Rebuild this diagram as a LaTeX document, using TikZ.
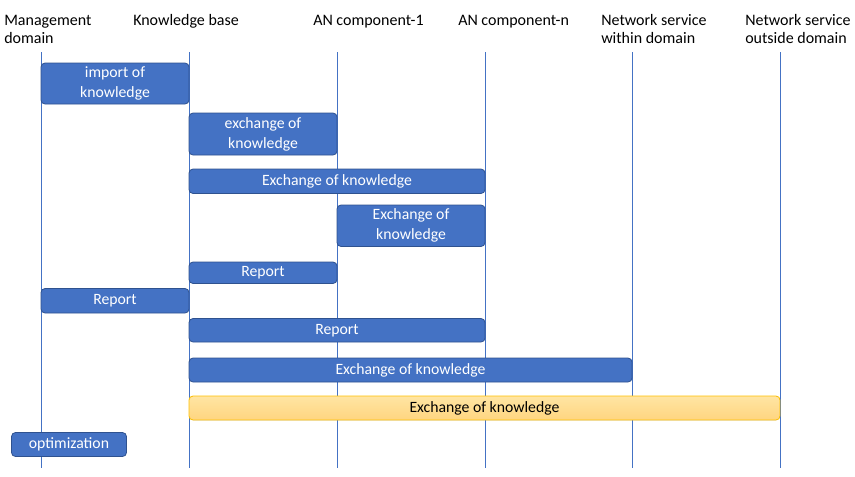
\documentclass[tikz,border=0pt]{standalone}
\usepackage{fontspec}
\setmainfont{Carlito}
\usepackage{tikz}

\definecolor{msgblue}{HTML}{4472C4}
\definecolor{msgedge}{HTML}{2F528F}
\definecolor{goldedge}{HTML}{FFC000}
\definecolor{goldtop}{HTML}{FFE5A3}
\definecolor{goldbot}{HTML}{FFD57F}

\begin{document}
\begin{tikzpicture}[x=0.75pt, y=-0.75pt]
    \tikzset{head/.style={anchor=base west, inner sep=0pt, align=left, font=\fontsize{12}{13.7}\selectfont}}
    \tikzset{life/.style={msgblue, line width=0.6pt}}
    \tikzset{msg/.style={draw=msgedge, fill=msgblue, text=white, rounded corners=3pt, inner sep=0pt, line width=0.6pt, align=center, font=\fontsize{11.8}{15}\selectfont}}
    \tikzset{ext/.style={msg, draw=goldedge, top color=goldtop, bottom color=goldbot, text=black}}
    \useasboundingbox (0,0) rectangle (855,476);
    % headers (base = last line)
    \node[head] (mgmt) at (4,43.5) {Management\\domain};
    \node[head] (kb) at (133,25) {Knowledge base};
    \node[head] (an1) at (313,25) {AN component-1};
    \node[head] (ann) at (458,25) {AN component-n};
    \node[head] (nsin) at (601,43.5) {Network service\\within domain};
    \node[head] (nsout) at (745,43.5) {Network service\\outside domain};
    % lifelines
    \coordinate (mgmt-t) at (41,52);  \coordinate (mgmt-b) at (41,468);
    \coordinate (kb-t) at (189,52);   \coordinate (kb-b) at (189,468);
    \coordinate (an1-t) at (337,52);  \coordinate (an1-b) at (337,468);
    \coordinate (ann-t) at (485,52);  \coordinate (ann-b) at (485,468);
    \coordinate (nsin-t) at (632,52); \coordinate (nsin-b) at (632,468);
    \coordinate (nsout-t) at (780,52); \coordinate (nsout-b) at (780,468);
    \draw[life] (mgmt-t) -- (mgmt-b);
    \draw[life] (kb-t) -- (kb-b);
    \draw[life] (an1-t) -- (an1-b);
    \draw[life] (ann-t) -- (ann-b);
    \draw[life] (nsin-t) -- (nsin-b);
    \draw[life] (nsout-t) -- (nsout-b);
    % messages
    \node[msg, minimum width=148*0.75pt, minimum height=41*0.75pt] (import) at (115,83.5) {import of\\knowledge};
    \node[msg, minimum width=148*0.75pt, minimum height=42*0.75pt] (exch1) at (263,134) {exchange of\\knowledge};
    \node[msg, minimum width=296*0.75pt, minimum height=24.5*0.75pt] (exch2) at (337,181.25) {Exchange of knowledge};
    \node[msg, minimum width=148*0.75pt, minimum height=41.5*0.75pt] (exch3) at (411,225.75) {Exchange of\\knowledge};
    \node[msg, minimum width=148*0.75pt, minimum height=21.5*0.75pt] (rep1) at (263,272.75) {Report};
    \node[msg, minimum width=148*0.75pt, minimum height=24.5*0.75pt] (rep2) at (115,300.75) {Report};
    \node[msg, minimum width=296*0.75pt, minimum height=23.5*0.75pt] (rep3) at (337,330.25) {Report};
    \node[msg, minimum width=443*0.75pt, minimum height=24*0.75pt] (exch4) at (410.5,370) {Exchange of knowledge};
    \node[ext, minimum width=591*0.75pt, minimum height=24*0.75pt] (exch5) at (484.5,408) {Exchange of knowledge};
    \node[msg, minimum width=115*0.75pt, minimum height=24*0.75pt] (opt) at (69,444.5) {optimization};
\end{tikzpicture}
\end{document}
